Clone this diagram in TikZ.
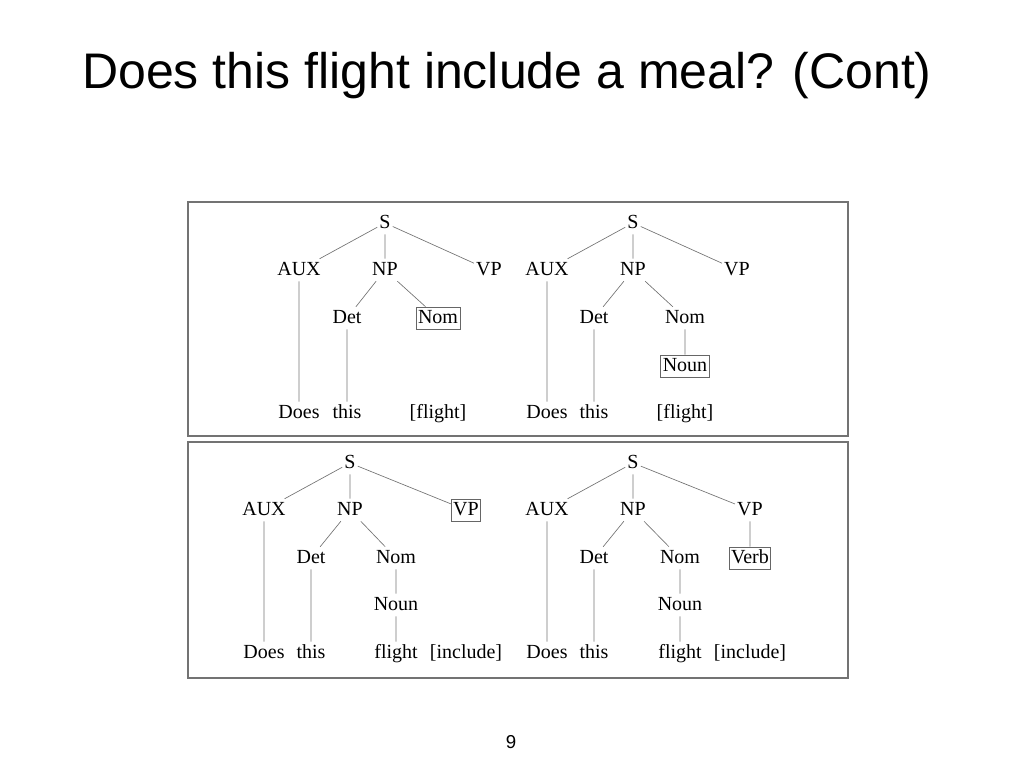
\documentclass[tikz,border=0pt]{standalone}
\usepackage{fontspec}
\setmainfont{Liberation Serif}
\newfontfamily\titlefont{Liberation Sans}
\begin{document}
\begin{tikzpicture}[x=0.75pt,y=-0.75pt,
 t/.style={font=\fontsize{15}{16}\selectfont,inner sep=1.5pt,text height=10.5pt,text depth=3pt},
 bx/.style={t,draw=black!60,line width=0.6pt,inner sep=1.5pt},
 e/.style={draw=black!55,line width=0.5pt},
 frame/.style={draw=black!55,line width=0.8pt}]
\useasboundingbox (0,0) rectangle (1024,768);
\node[font=\titlefont\fontsize{37.5}{40}\selectfont] (title) at (507,76) {Does this flight include a meal? (Cont)};
\node[font=\titlefont\fontsize{14}{16}\selectfont] (pg) at (511,742) {9};
\draw[frame] (188,202) rectangle (848,436);
\draw[frame] (188,442) rectangle (848,678);
% tree 1
\node[t] (aS) at (385,223) {S};
\node[t] (aAUX) at (299,270) {AUX};
\node[t] (aNP) at (385,270) {NP};
\node[t] (aVP) at (489,270) {VP};
\node[t] (aDet) at (347,318) {Det};
\node[bx] (aNom) at (438,318) {Nom};
\node[t] (aDoes) at (299,413) {Does};
\node[t] (athis) at (347,413) {this};
\node[t] (afl) at (438,413) {[flight]};
\draw[e] (aS)--(aAUX) (aS)--(aNP) (aS)--(aVP) (aNP)--(aDet) (aNP)--(aNom) (aAUX)--(aDoes) (aDet)--(athis);
% tree 2
\node[t] (bS) at (633,223) {S};
\node[t] (bAUX) at (547,270) {AUX};
\node[t] (bNP) at (633,270) {NP};
\node[t] (bVP) at (737,270) {VP};
\node[t] (bDet) at (594,318) {Det};
\node[t] (bNom) at (685,318) {Nom};
\node[bx] (bNoun) at (685,366) {Noun};
\node[t] (bDoes) at (547,413) {Does};
\node[t] (bthis) at (594,413) {this};
\node[t] (bfl) at (685,413) {[flight]};
\draw[e] (bS)--(bAUX) (bS)--(bNP) (bS)--(bVP) (bNP)--(bDet) (bNP)--(bNom) (bNom)--(bNoun) (bAUX)--(bDoes) (bDet)--(bthis);
% tree 3
\node[t] (cS) at (350,463) {S};
\node[t] (cAUX) at (264,510) {AUX};
\node[t] (cNP) at (350,510) {NP};
\node[bx] (cVP) at (466,510) {VP};
\node[t] (cDet) at (311,558) {Det};
\node[t] (cNom) at (396,558) {Nom};
\node[t] (cNoun) at (396,605) {Noun};
\node[t] (cDoes) at (264,653) {Does};
\node[t] (cthis) at (311,653) {this};
\node[t] (cfl) at (396,653) {flight};
\node[t] (cinc) at (466,653) {[include]};
\draw[e] (cS)--(cAUX) (cS)--(cNP) (cS)--(cVP) (cNP)--(cDet) (cNP)--(cNom) (cNom)--(cNoun) (cNoun)--(cfl) (cAUX)--(cDoes) (cDet)--(cthis);
% tree 4
\node[t] (dS) at (633,463) {S};
\node[t] (dAUX) at (547,510) {AUX};
\node[t] (dNP) at (633,510) {NP};
\node[t] (dVP) at (750,510) {VP};
\node[t] (dDet) at (594,558) {Det};
\node[t] (dNom) at (680,558) {Nom};
\node[bx] (dVerb) at (750,558) {Verb};
\node[t] (dNoun) at (680,605) {Noun};
\node[t] (dDoes) at (547,653) {Does};
\node[t] (dthis) at (594,653) {this};
\node[t] (dfl) at (680,653) {flight};
\node[t] (dinc) at (750,653) {[include]};
\draw[e] (dS)--(dAUX) (dS)--(dNP) (dS)--(dVP) (dNP)--(dDet) (dNP)--(dNom) (dNom)--(dNoun) (dNoun)--(dfl) (dVP)--(dVerb) (dAUX)--(dDoes) (dDet)--(dthis);
\end{tikzpicture}
\end{document}
